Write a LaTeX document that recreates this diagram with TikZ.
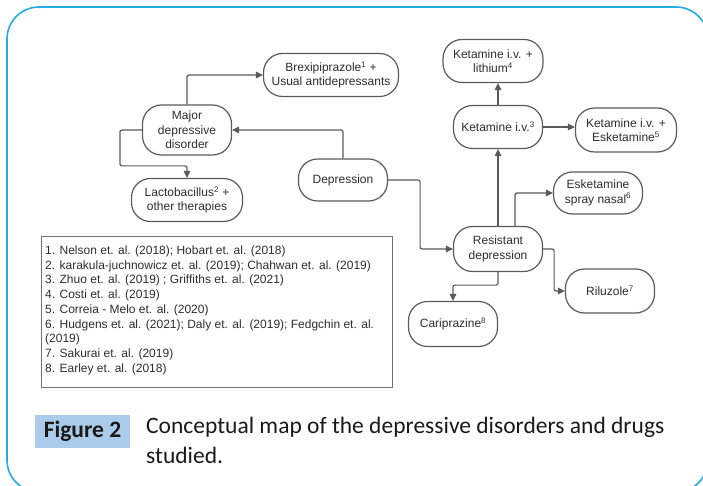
\documentclass[tikz,border=0pt]{standalone}
\usepackage{fontspec}
\setmainfont{Liberation Sans}
\newfontfamily\capfont{Carlito}
\usetikzlibrary{arrows.meta}
\definecolor{framecyan}{RGB}{38,172,228}
\definecolor{linegray}{RGB}{90,90,90}
\definecolor{textgray}{RGB}{45,45,45}
\definecolor{figblue}{RGB}{170,203,233}
\tikzset{
	concept/.style={draw=linegray, line width=1.2pt, rounded corners=19pt, align=center, text=textgray,
		font=\fontsize{12}{14.5}\selectfont, inner xsep=4pt, inner ysep=2pt, minimum width=89pt, minimum height=43pt},
	link/.style={draw=linegray, line width=1.2pt, rounded corners=2pt, -{Triangle[length=7pt,width=6.5pt]}},
	refline/.style={anchor=base west, inner sep=0pt, text=textgray, font=\fontsize{12}{14.5}\selectfont},
}
\begin{document}
\begin{tikzpicture}[x=1pt,y=-1pt]
	\useasboundingbox (0,0) rectangle (703,486);
	\draw[framecyan, line width=1.6pt, rounded corners=32pt] (7,7) rectangle (708,492);
	% left part of the map
	\node[concept, minimum width=135pt] (brex) at (331,75) {Brexipiprazole\textsuperscript{1} +\\Usual antidepressants};
	\node[concept, minimum height=50pt] (major) at (187,130) {Major\\depressive\\disorder};
	\node[concept, minimum width=111pt] (lacto) at (187,200) {Lactobacillus\textsuperscript{2} +\\other therapies};
	\node[concept, minimum height=42pt] (depr) at (343,180) {Depression};
	% right part of the map
	\node[concept, minimum width=100pt] (ketli) at (493,61) {Ketamine i.v. +\\lithium\textsuperscript{4}};
	\node[concept] (ket) at (498,127) {Ketamine i.v.\textsuperscript{3}};
	\node[concept, minimum width=101pt, minimum height=44pt] (ketesk) at (626,130) {Ketamine i.v. +\\Esketamine\textsuperscript{5}};
	\node[concept, minimum height=42pt] (spray) at (598,193) {Esketamine\\spray nasal\textsuperscript{6}};
	\node[concept, minimum height=45pt] (resist) at (498,249) {Resistant\\depression};
	\node[concept, minimum height=44pt] (rilu) at (610,291) {Riluzole\textsuperscript{7}};
	\node[concept, minimum height=45pt] (cari) at (453,324) {Cariprazine\textsuperscript{8}};
	% connectors
	\draw[link] (major.north) |- (brex.west);
	\draw[link] (depr.north) |- (major.east);
	\draw[link] (major.west) -- ++(-22,0) |- ([yshift=12pt]lacto.north) -- (lacto.north);
	\draw[link] (depr.east) -- ++(32,0) |- (resist.west);
	\draw[link] (resist.north) -- (ket.south);
	\draw[link] (ket.north) -- (ket.north |- ketli.south);
	\draw[link] (ket.east) -- (ketesk.west |- ket.east);
	\draw[link] ([xshift=17pt]resist.north) |- (spray.west);
	\draw[link] (resist.east) -- ++(11,0) |- (rilu.west);
	\draw[link] (resist.south) -- ++(0,13) -| (cari.north);
	% references
	\node[draw=linegray!85, line width=0.8pt, minimum width=351pt, minimum height=151pt, inner sep=0pt] (refs) at (216.5,311.5) {};
	\foreach \i/\t in {1/{1. Nelson et. al. (2018); Hobart et. al. (2018)},
		2/{2. karakula-juchnowicz et. al. (2019); Chahwan et. al. (2019)},
		3/{3. Zhuo et. al. (2019) ; Griffiths et. al. (2021)},
		4/{4. Costi et. al. (2019)},
		5/{5. Correia - Melo et. al. (2020)},
		6/{6. Hudgens et. al. (2021); Daly et. al. (2019); Fedgchin et. al.},
		7/{(2019)},
		8/{7. Sakurai et. al. (2019)},
		9/{8. Earley et. al. (2018)}}
	\node[refline] (ref\i) at (45,{254.5+14.7*(\i-1)}) {\t};
	% caption
	\node[fill=figblue, minimum width=95pt, minimum height=33pt, inner sep=0pt, text=black!90,
		font=\capfont\bfseries\fontsize{23.5}{28}\selectfont] (fig) at (82.5,431.5) {Figure 2};
	\node[anchor=base west, inner sep=0pt, text=black!90, font=\capfont\fontsize{23.5}{30}\selectfont] (cap1) at (146,433.3) {Conceptual map of the depressive disorders and drugs};
	\node[anchor=base west, inner sep=0pt, text=black!90, font=\capfont\fontsize{23.5}{30}\selectfont] (cap2) at (146,463.3) {studied.};
\end{tikzpicture}
\end{document}
